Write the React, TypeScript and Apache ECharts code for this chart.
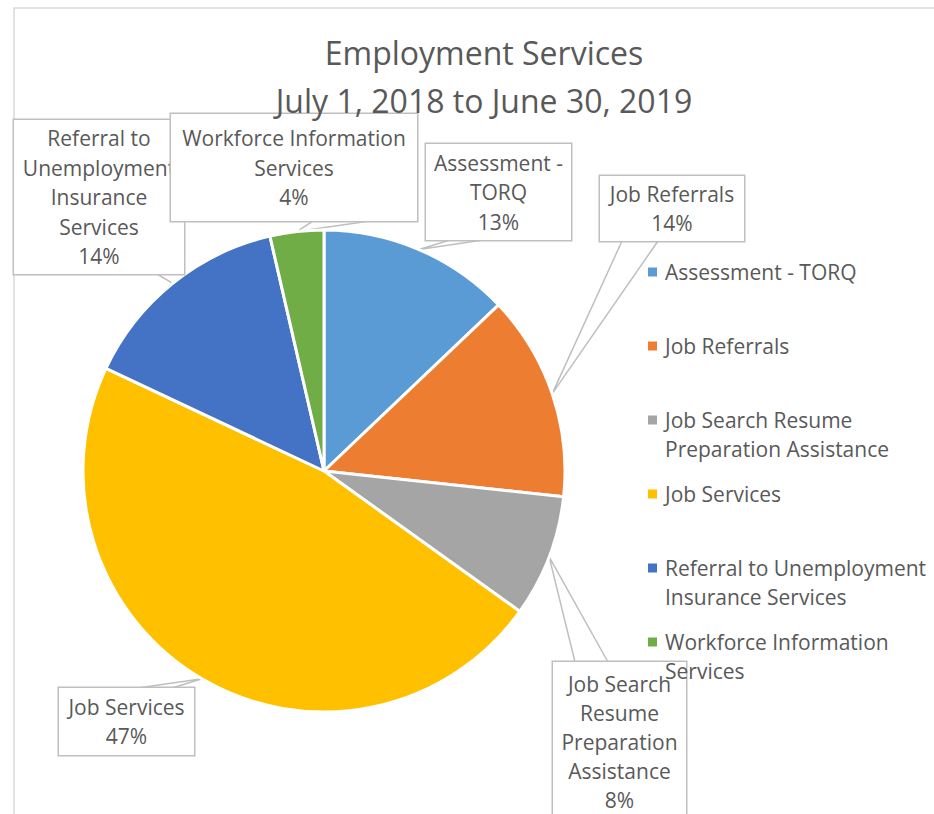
import React, { useEffect, useRef } from "react";
import * as echarts from "echarts";

// ---- data ----
const categories = [
  "Assessment - TORQ",
  "Job Referrals",
  "Job Search Resume Preparation Assistance",
  "Job Services",
  "Referral to Unemployment Insurance Services",
  "Workforce Information Services",
];
const shares = [12.9, 13.8, 8.2, 47.1, 14.4, 3.6];
const calloutText = [
  "Assessment -\nTORQ",
  "Job Referrals",
  "Job Search\nResume\nPreparation\nAssistance",
  "Job Services",
  "Referral to\nUnemployment\nInsurance\nServices",
  "Workforce Information\nServices",
];
const legendText = [
  "Assessment - TORQ",
  "Job Referrals",
  "Job Search Resume\nPreparation Assistance",
  "Job Services",
  "Referral to Unemployment\nInsurance Services",
  "Workforce Information\nServices",
];
const titleText = "Employment Services\nJuly 1, 2018 to June 30, 2019";

// ---- layout / style config ----
const colors = ["#5B9BD5", "#ED7D31", "#A5A5A5", "#FFC000", "#4472C4", "#70AD47"];
const FONT = "'Open Sans', 'Noto Sans', sans-serif";
const TEXT = "#595959";
// callout boxes: x, y, w, h, line height and wedge base points on the box edge
const boxes = [
  { x: 426, y: 144, w: 145, h: 96, lh: 29.5, a: [450, 240], b: [483, 240] },
  { x: 600, y: 176, w: 144, h: 65, lh: 29.5, a: [622, 241], b: [658, 241] },
  { x: 553, y: 662, w: 133, h: 160, lh: 29, a: [575, 662], b: [608, 662] },
  { x: 59, y: 688, w: 135, h: 67, lh: 29.5, a: [138, 688], b: [172, 688] },
  { x: 14, y: 120, w: 170, h: 154, lh: 29.5, a: [157, 274], b: [184, 274] },
  { x: 171, y: 114, w: 246, h: 107, lh: 29.5, a: [313, 221], b: [370, 221] },
];
const legendCenters = [272, 346, 420, 494, 568, 642];
// square marker placed at the top of a taller (two-line) legend slot
const TALL_ICON = "path://M0,0H9V9H0Z M0,38H9";

export default function App() {
  const ref = useRef<HTMLDivElement>(null);
  useEffect(() => {
    if (!ref.current) return;
    const chart = echarts.init(ref.current, undefined, { renderer: "svg" });
    const legends = categories.map((name, i) => {
      const twoLine = legendText[i].includes("\n");
      return {
        data: [name],
        orient: "vertical",
        left: 648,
        top: legendCenters[i] - 14.5,
        padding: 0,
        itemGap: 0,
        itemWidth: 9,
        itemHeight: twoLine ? 38 : 9,
        icon: twoLine ? TALL_ICON : "rect",
        itemStyle: { borderWidth: 0 },
        selectedMode: false,
        formatter: () => legendText[i],
        textStyle: {
          fontFamily: FONT,
          fontSize: 21,
          lineHeight: 29,
          color: TEXT,
          backgroundColor: "rgba(0,0,0,0)",
          padding: [0, 0, 0, 3],
        },
      };
    });
    chart.setOption({
      animation: false,
      color: colors,
      title: {
        text: titleText,
        left: 484,
        top: 28,
        textAlign: "center",
        padding: 0,
        textStyle: {
          fontFamily: FONT,
          fontSize: 32,
          lineHeight: 48,
          fontWeight: "normal",
          color: TEXT,
        },
      },
      legend: legends,
      graphic: [
        {
          type: "polyline",
          z: -10,
          silent: true,
          shape: { points: [[14, 814], [14, 8], [934, 8]] },
          style: { stroke: "#D9D9D9", lineWidth: 1.5, fill: null },
        },
      ],
      series: [
        {
          type: "pie",
          center: [324, 471],
          radius: 241,
          startAngle: 90,
          clockwise: true,
          avoidLabelOverlap: false,
          itemStyle: { borderColor: "#ffffff", borderWidth: 3 },
          emphasis: { disabled: true },
          data: categories.map((name, i) => ({
            name,
            value: shares[i],
            label: { width: boxes[i].w, height: boxes[i].h, lineHeight: boxes[i].lh },
          })),
          label: {
            show: true,
            position: "outside",
            overflow: "none",
            formatter: (p: any) => calloutText[p.dataIndex] + "\n" + Math.round(p.percent) + "%",
            fontFamily: FONT,
            fontSize: 21,
            lineHeight: 29.5,
            color: TEXT,
            align: "center",
            backgroundColor: "#ffffff",
            borderColor: "#BFBFBF",
            borderWidth: 1.5,
            padding: 0,
          },
          labelLine: {
            show: true,
            length: 5,
            length2: 5,
            lineStyle: { color: "#BFBFBF", width: 1.5 },
          },
          labelLayout: (params: any) => {
            const b = boxes[params.dataIndex];
            const tip = params.labelLinePoints ? params.labelLinePoints[0] : null;
            const out: any = {
              x: b.x + b.w / 2,
              y: b.y + b.h / 2,
              align: "center",
              verticalAlign: "middle",
            };
            if (tip) out.labelLinePoints = [b.a, tip, b.b];
            return out;
          },
        },
      ],
    });
    return () => chart.dispose();
  }, []);
  return (
    <div
      ref={ref}
      style={{ position: "absolute", left: 0, top: 0, width: 934, height: 814, background: "#fff" }}
    />
  );
}
